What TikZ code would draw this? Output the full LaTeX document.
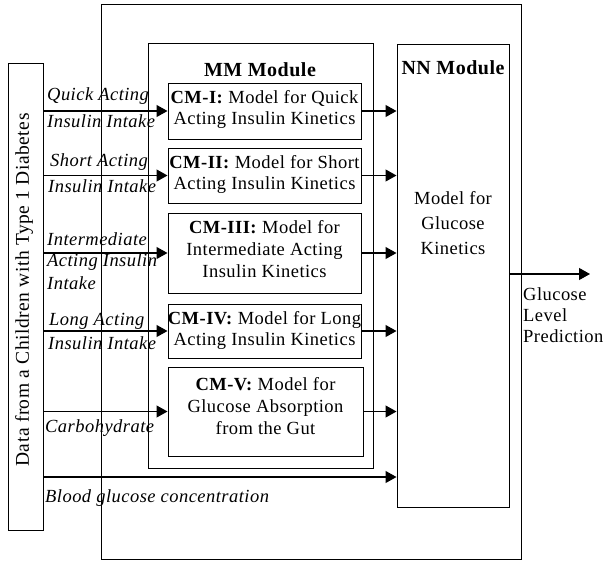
\documentclass[tikz,border=0pt]{standalone}
\usepackage{fontspec}
\setmainfont{Liberation Serif}[LetterSpace=2.5]
\usetikzlibrary{arrows.meta}
\begin{document}
\begin{tikzpicture}[x=1pt,y=-1pt,
  box/.style={draw, line width=1pt, inner sep=0pt},
  txt/.style={inner sep=0pt, align=center, font=\fontsize{18.5}{21}\selectfont},
  head/.style={inner sep=0pt, anchor=base, font=\fontsize{20}{22}\selectfont\bfseries},
  lbl/.style={inner sep=0pt, anchor=base west, font=\fontsize{18.5}{21}\selectfont\itshape},
  arr/.style={line width=1.2pt, -{Triangle[length=11pt,width=12pt]}}]
\useasboundingbox (0,0) rectangle (608,563);
% frames
\node[box, minimum width=420, minimum height=555] (outer) at (311,281.5) {};
\node[box, minimum width=35, minimum height=467] (data) at (25.5,296.5) {};
\node[txt, rotate=90, font=\fontsize{19.5}{21}\selectfont] (datat) at (24,290) {Data from a Children with Type 1 Diabetes};
\node[box, minimum width=225, minimum height=425] (mm) at (260.5,255.5) {};
\node[head] (mmt) at (260,76) {MM Module};
\node[box, minimum width=112, minimum height=463] (nn) at (453,275.5) {};
\node[head] (nnt) at (453,74) {NN Module};
\node[txt, font=\fontsize{18.5}{25}\selectfont] (nntext) at (453,223) {Model for\\Glucose\\Kinetics};
% component models
\node[box, minimum width=193, minimum height=56] (cm1) at (264.5,111) {};
\node[txt] (cm1t) at (264.5,109) {\textbf{CM-I:} Model for Quick\\Acting Insulin Kinetics};
\node[box, minimum width=193, minimum height=55] (cm2) at (264.5,175.5) {};
\node[txt] (cm2t) at (264.5,174) {\textbf{CM-II:} Model for Short\\Acting Insulin Kinetics};
\node[box, minimum width=193, minimum height=80] (cm3) at (264.5,253) {};
\node[txt, font=\fontsize{18.5}{22}\selectfont] (cm3t) at (264.5,249) {\textbf{CM-III:} Model for\\Intermediate Acting\\Insulin Kinetics};
\node[box, minimum width=193, minimum height=54] (cm4) at (264.5,331) {};
\node[txt] (cm4t) at (264.5,330) {\textbf{CM-IV:} Model for Long\\Acting Insulin Kinetics};
\node[box, minimum width=195, minimum height=89] (cm5) at (265.5,411.5) {};
\node[txt, font=\fontsize{18.5}{22}\selectfont] (cm5t) at (265.5,406) {\textbf{CM-V:} Model for\\Glucose Absorption\\from the Gut};
% inputs and outputs of the component models
\foreach \c in {cm1,cm2,cm3,cm4,cm5}{
  \draw[arr] (\c.west -| data.east) -- (\c.west);
  \draw[arr] (\c.east) -- (\c.east -| nn.west);
}
\coordinate (bg) at (44,477);
\draw[arr] (bg) -- (bg -| nn.west);
\coordinate (out) at (590,274);
\draw[arr] (out -| nn.east) -- (out);
% labels
\node[lbl] (l1a) at (47,100) {Quick Acting};
\node[lbl] (l1b) at (47,127) {Insulin Intake};
\node[lbl] (l2a) at (50,166) {Short Acting};
\node[lbl] (l2b) at (48,192) {Insulin Intake};
\node[lbl] (l3a) at (47,245) {Intermediate};
\node[lbl] (l3b) at (47,266) {Acting Insulin};
\node[lbl] (l3c) at (47,289) {Intake};
\node[lbl] (l4a) at (49,325) {Long Acting};
\node[lbl] (l4b) at (48,349) {Insulin Intake};
\node[lbl] (l5) at (45,432) {Carbohydrate};
\node[lbl] (l6) at (45,502) {Blood glucose concentration};
\node[txt, align=left, anchor=base west, font=\fontsize{18.5}{21}\selectfont] (outt) at (523,342) {Glucose\\Level\\Prediction};
\end{tikzpicture}
\end{document}
